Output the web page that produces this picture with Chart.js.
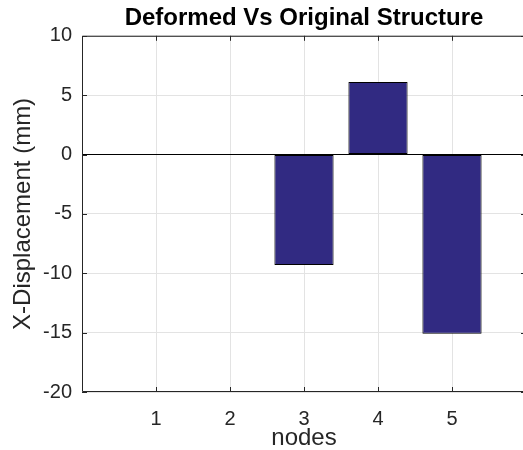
<!DOCTYPE html>
<html>
<head>
<meta charset="utf-8">
<script src="https://cdn.jsdelivr.net/npm/chart.js@4"></script>
<style>
  html, body { margin: 0; padding: 0; background: #fff; overflow: hidden; }
  canvas { display: block; }
</style>
</head>
<body>
<canvas id="chart" width="527" height="450"></canvas>
<script>
const nodes = [1, 2, 3, 4, 5];
const xDisplacement = [0, 0, -9.3, 6.1, -15.1];
const yTicks = [10, 5, 0, -5, -10, -15, -20];

const FONT = "'Liberation Sans', Arial, Helvetica, sans-serif";
const AXIS = "#262626";

// matlab style box with inward tick marks
const boxTicks = {
  id: "boxTicks",
  afterDraw(chart) {
    const { ctx, chartArea: a, scales } = chart;
    const len = 5;
    ctx.save();
    ctx.strokeStyle = AXIS;
    ctx.lineWidth = 1;
    ctx.beginPath();
    ctx.rect(a.left + 0.5, a.top + 0.5, a.right - a.left - 1, a.bottom - a.top - 1);
    nodes.forEach((n) => {
      const x = Math.round(scales.x.getPixelForValue(n)) + 0.5;
      ctx.moveTo(x, a.bottom);
      ctx.lineTo(x, a.bottom - len);
      ctx.moveTo(x, a.top);
      ctx.lineTo(x, a.top + len);
    });
    yTicks.forEach((v) => {
      const y = Math.round(scales.y.getPixelForValue(v)) + 0.5;
      ctx.moveTo(a.left, y);
      ctx.lineTo(a.left + len, y);
      ctx.moveTo(a.right, y);
      ctx.lineTo(a.right - len, y);
    });
    ctx.stroke();
    ctx.restore();
  },
};

new Chart(document.getElementById("chart"), {
  type: "bar",
  data: {
    datasets: [
      {
        data: nodes.map((n, i) => ({ x: n, y: xDisplacement[i] })),
        backgroundColor: "#312a82",
        borderColor: "#000",
        borderWidth: 1,
        borderSkipped: false,
        barPercentage: 0.8,
        categoryPercentage: 1,
      },
    ],
  },
  options: {
    responsive: false,
    animation: false,
    layout: { padding: { left: 0, right: 1, top: 0, bottom: 0 } },
    plugins: {
      legend: { display: false },
      tooltip: { enabled: false },
      title: {
        display: true,
        fullSize: false,
        text: "Deformed Vs Original Structure",
        color: "#000",
        font: { family: FONT, size: 24, weight: "bold", lineHeight: 1.2 },
        padding: { top: 4, bottom: 3 },
      },
    },
    scales: {
      x: {
        type: "linear",
        min: 0,
        max: 6,
        offset: false,
        afterFit: (s) => { s.height = 58; },
        afterBuildTicks: (s) => { s.ticks = [0, ...nodes, 6].map((v) => ({ value: v })); },
        // tick length used as label gap (ticks.padding would also pad the right edge)
        grid: { color: "#e3e3e3", drawTicks: true, tickLength: 15, tickColor: "rgba(0,0,0,0)", offset: false },
        border: { display: false },
        ticks: {
          color: "#262626",
          padding: 0,
          font: { family: FONT, size: 20 },
          callback: (v) => (nodes.includes(v) ? String(v) : ""),
        },
        title: {
          display: true,
          text: "nodes",
          color: "#262626",
          font: { family: FONT, size: 24, lineHeight: 1 },
          padding: { top: 0, bottom: 0 },
        },
      },
      y: {
        min: -20,
        max: 10,
        afterFit: (s) => { s.width = 82; },
        afterBuildTicks: (s) => { s.ticks = yTicks.map((v) => ({ value: v })); },
        grid: {
          color: (c) => (c.tick && c.tick.value === 0 ? "#000" : "#e3e3e3"),
          drawTicks: false,
        },
        border: { display: false },
        ticks: {
          color: "#262626",
          padding: 10,
          font: { family: FONT, size: 20 },
        },
        title: {
          display: true,
          text: "X-Displacement (mm)",
          color: "#262626",
          font: { family: FONT, size: 24, lineHeight: 1.2 },
          padding: { top: 9, bottom: 0 },
        },
      },
    },
  },
  plugins: [boxTicks],
});
</script>
</body>
</html>
